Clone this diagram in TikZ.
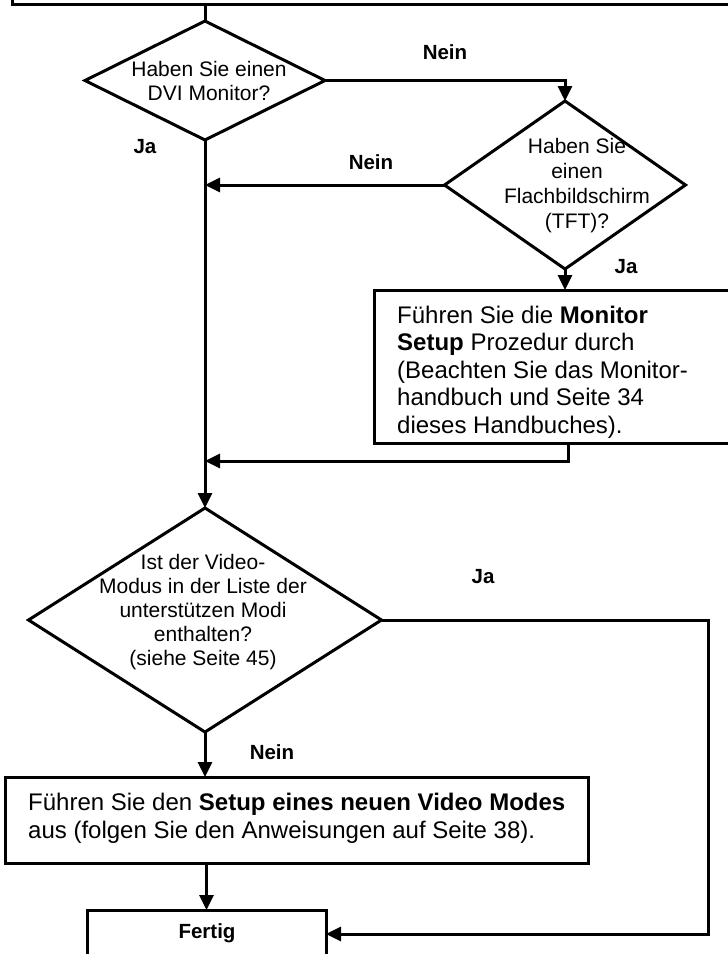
\documentclass[tikz,border=0pt]{standalone}
\usepackage{fontspec}
\setmainfont{Liberation Sans}
\usetikzlibrary{shapes.geometric,arrows.meta}
\tikzset{
  box/.style={draw, rectangle, line width=3pt, inner sep=0pt, outer sep=0pt},
  dia/.style={draw, diamond, line width=3pt, inner sep=0pt, outer sep=0pt},
  qtext/.style={align=center, inner sep=0pt, font=\fontsize{21pt}{24pt}\selectfont},
  btext/.style={align=left, inner sep=0pt, anchor=west, font=\fontsize{24pt}{27.5pt}\selectfont},
  lbl/.style={inner sep=0pt, font=\fontsize{20.5pt}{24pt}\selectfont\bfseries},
  conn/.style={line width=3pt},
  arr/.style={line width=3pt, -{Triangle[length=15pt,width=14pt]}}
}
\begin{document}
\begin{tikzpicture}[x=1pt,y=-1pt]
\useasboundingbox (0,0) rectangle (728,954);
\fill[white] (0,0) rectangle (728,954);
\clip (0,0) rectangle (728,954);

% boxes and decisions
\node[box, anchor=south west, minimum width=760pt, minimum height=80pt] (top) at (12,4) {};
\node[dia, minimum width=240pt, minimum height=119pt] (q1) at (205,80.5) {};
\node[dia, minimum width=241pt, minimum height=168pt] (q2) at (565,185) {};
\node[box, anchor=north west, minimum width=400pt, minimum height=153pt] (mbox) at (374,290) {};
\node[dia, minimum width=353pt, minimum height=224pt] (q3) at (205,620) {};
\node[box, anchor=north west, minimum width=583pt, minimum height=86pt] (sbox) at (5,777) {};
\node[box, anchor=north west, minimum width=239pt, minimum height=90pt] (fertig) at (87,910) {};

% texts
\node[qtext] (q1t) at (209,80.5) {Haben Sie einen\\DVI Monitor?};
\node[qtext, font=\fontsize{21pt}{25pt}\selectfont] (q2t) at (577,186) {Haben Sie\\einen\\Flachbildschirm\\(TFT)?};
\node[qtext] (q3t) at (203,612.5) {Ist der Video-\\Modus in der Liste der\\unterstützen Modi\\enthalten?\\(siehe Seite 45)};
\node[btext] (mt) at (397,372) {Führen Sie die \textbf{Monitor}\\\textbf{Setup} Prozedur durch\\(Beachten Sie das Monitor-\\handbuch und Seite 34\\dieses Handbuches).};
\node[btext] (st) at (28,818.5) {Führen Sie den \textbf{Setup eines neuen Video Modes}\\aus (folgen Sie den Anweisungen auf Seite 38).};
\node[lbl] (ft) at (207,933) {Fertig};

% labels
\node[lbl] (l1) at (445,52) {Nein};
\node[lbl] (l2) at (145,147) {Ja};
\node[lbl] (l3) at (371,162) {Nein};
\node[lbl] (l4) at (626,267) {Ja};
\node[lbl] (l5) at (483,577) {Ja};
\node[lbl] (l6) at (272,752) {Nein};

% connectors
\coordinate (mret) at (568,443);
\coordinate (mjoin) at (205,461);
\coordinate (rcorner) at (708,934);

\draw[conn] (q1.north |- top.south) -- (q1.north);
\draw[arr] (q1.east) -| (q2.north);
\draw[arr] (q2.west) -- (q2.west -| q1.south);
\draw[arr] (q2.south) -- (q2.south |- mbox.north);
\draw[arr] (mret) |- (mjoin);
\draw[arr] (q1.south) -- (q3.north);
\draw[arr] (q3.east) -| (rcorner) -- (rcorner -| fertig.east);
\draw[arr] (q3.south) -- (q3.south |- sbox.north);
\draw[arr] (fertig.north |- sbox.south) -- (fertig.north);
\end{tikzpicture}
\end{document}
